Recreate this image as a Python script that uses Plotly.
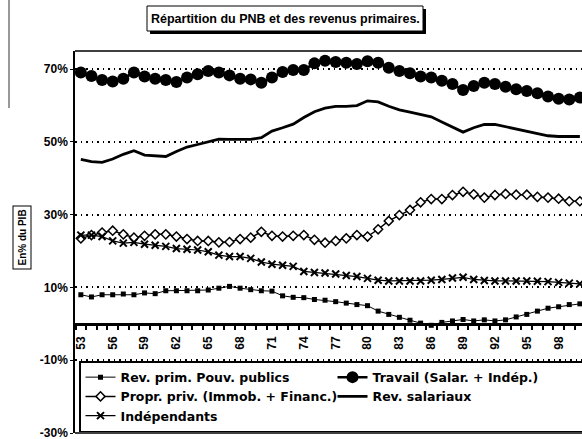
import plotly.graph_objects as go

# ---------------- data ----------------
years = list(range(1953, 2001))

pouv_publics = [8.0, 7.4, 8.0, 8.0, 8.2, 8.0, 8.5, 8.3, 9.1, 9.1,
                9.1, 9.1, 9.3, 9.8, 10.3, 9.8, 9.4, 9.1, 9.0, 7.7,
                7.3, 7.2, 6.7, 6.5, 6.1, 5.7, 5.3, 5.0, 3.5, 2.6,
                1.8, 1.0, 0.2, -0.4, 0.4, 0.8, 1.2, 0.8, 1.1, 0.8,
                1.1, 1.9, 2.6, 3.5, 4.3, 4.7, 5.3, 5.5]

travail = [69.1, 68.1, 67.0, 66.6, 67.4, 69.1, 68.0, 67.4, 67.0, 66.5,
           67.7, 68.6, 69.5, 69.1, 68.3, 67.4, 67.2, 66.3, 67.7, 69.2,
           69.8, 69.8, 71.6, 72.3, 72.0, 71.8, 71.4, 72.2, 71.8, 70.4,
           69.5, 68.9, 68.0, 67.7, 66.8, 65.9, 64.3, 65.4, 66.3, 65.9,
           65.2, 64.5, 64.0, 63.4, 62.5, 61.9, 61.7, 62.2]

propr_priv = [23.5, 24.4, 25.1, 25.6, 24.6, 23.7, 24.2, 24.6, 24.6, 24.0,
              23.3, 22.8, 22.8, 22.4, 22.5, 23.3, 23.7, 25.3, 24.2, 24.0,
              24.2, 24.4, 23.1, 22.3, 22.8, 23.5, 24.4, 24.0, 26.0, 28.3,
              29.9, 31.3, 33.4, 34.3, 34.3, 35.4, 36.3, 35.6, 34.7, 35.4,
              35.7, 35.5, 35.5, 34.9, 34.7, 34.4, 33.7, 33.7]

rev_salariaux = [45.2, 44.6, 44.4, 45.3, 46.6, 47.6, 46.4, 46.3, 46.0, 47.4,
                 48.6, 49.3, 50.0, 50.8, 50.7, 50.6, 50.7, 51.2, 53.0, 53.9,
                 54.9, 56.7, 58.3, 59.3, 59.8, 59.8, 60.0, 61.3, 61.0, 59.8,
                 58.8, 58.2, 57.6, 56.9, 55.5, 54.2, 52.7, 53.9, 54.8, 54.8,
                 54.2, 53.7, 53.0, 52.4, 51.7, 51.5, 51.5, 51.5]

independants = [24.4, 24.4, 24.0, 22.8, 22.2, 22.4, 21.9, 21.6, 21.3, 20.7,
                20.5, 20.3, 19.8, 18.9, 18.5, 18.5, 18.0, 17.0, 16.4, 16.1,
                15.8, 14.4, 14.1, 14.0, 13.7, 13.3, 13.0, 12.5, 12.0, 11.8,
                11.8, 11.8, 11.8, 12.0, 12.2, 12.6, 12.8, 12.2, 11.9, 11.8,
                11.8, 11.8, 11.8, 11.7, 11.6, 11.4, 11.2, 11.0]

x_tick_years = list(range(1953, 1999, 3))
x_tick_labels = [str(y)[2:] for y in x_tick_years]
y_tick_vals = [-30, -10, 10, 30, 50, 70]
y_tick_labels = ["-30%", "-10%", "10%", "30%", "50%", "70%"]

names = ["Rev. prim. Pouv. publics", "Travail (Salar. + Indép.)",
         "Propr. priv. (Immob. + Financ.)", "Rev. salariaux", "Indépendants"]
title_text = "Répartition du PNB et des revenus primaires."
ytitle_text = "En% du PIB"

# ---------------- layout geometry ----------------
W, H = 582, 439
Y_MIN, Y_MAX = -30, 75
ML, MR, MT, MB = 75, 0, 51, 6
PW, PH = W - ML - MR, H - MT - MB
FONT = "Liberation Sans, Arial, sans-serif"
LEG_FONT = "DejaVu Sans, sans-serif"


def pxx(px):
    return (px - ML) / PW


def pxy(py):
    return (H - MB - py) / PH


fig = go.Figure()

fig.add_trace(go.Scatter(
    x=years, y=pouv_publics, name=names[0], mode="lines+markers",
    line=dict(color="black", width=1),
    marker=dict(symbol="square", size=5, color="black")))

fig.add_trace(go.Scatter(
    x=years, y=travail, name=names[1], mode="lines+markers",
    line=dict(color="black", width=2.5),
    marker=dict(symbol="circle", size=12, color="black")))

fig.add_trace(go.Scatter(
    x=years, y=propr_priv, name=names[2], mode="lines+markers",
    line=dict(color="black", width=1.5),
    marker=dict(symbol="diamond", size=7, color="white",
                line=dict(color="black", width=1.5))))

fig.add_trace(go.Scatter(
    x=years, y=rev_salariaux, name=names[3], mode="lines",
    line=dict(color="black", width=2.8)))

fig.add_trace(go.Scatter(
    x=years, y=independants, name=names[4], mode="lines+markers",
    line=dict(color="black", width=1.2),
    marker=dict(symbol="x-thin", size=7, color="black",
                line=dict(color="black", width=2))))

shapes = [
    # title shadow + box
    dict(type="rect", xref="paper", yref="paper",
         x0=pxx(150), x1=pxx(426), y0=pxy(34), y1=pxy(9),
         fillcolor="black", line=dict(width=0), layer="above"),
    dict(type="rect", xref="paper", yref="paper",
         x0=pxx(147), x1=pxx(423), y0=pxy(31), y1=pxy(6),
         fillcolor="white", line=dict(color="black", width=1), layer="above"),
    # plot frame: top and bottom
    dict(type="line", xref="paper", yref="paper", x0=0, x1=1.02, y0=1, y1=1,
         line=dict(color="black", width=1.5)),
    dict(type="line", xref="paper", yref="paper", x0=0, x1=1.02, y0=0, y1=0,
         line=dict(color="black", width=1.5)),
    # scan artefact line on the far left
    dict(type="line", xref="paper", yref="paper", x0=pxx(9), x1=pxx(9),
         y0=pxy(0), y1=pxy(108), line=dict(color="#333333", width=1)),
]

annotations = [
    dict(text=title_text, xref="paper", yref="paper",
         x=pxx(285), y=pxy(18.5), xanchor="center", yanchor="middle",
         showarrow=False,
         font=dict(family=FONT, size=12.5, color="black", weight="bold")),
    dict(text=ytitle_text, xref="paper", yref="paper",
         x=pxx(21.5), y=pxy(238), xanchor="center", yanchor="middle",
         textangle=-90, showarrow=False, bordercolor="black", borderwidth=1,
         borderpad=3, bgcolor="white",
         font=dict(family=FONT, size=10, color="black", weight="bold")),
]

fig.update_layout(
    width=W, height=H,
    margin=dict(l=ML, r=MR, t=MT, b=MB, autoexpand=False),
    paper_bgcolor="white", plot_bgcolor="white",
    showlegend=True,
    legend=dict(orientation="h", x=pxx(79), xanchor="left",
                y=pxy(361), yanchor="top", bgcolor="white",
                bordercolor="black", borderwidth=1.5,
                font=dict(family=LEG_FONT, size=12.5, color="black", weight="bold"),
                entrywidth=207, entrywidthmode="pixels", itemwidth=30,
                traceorder="normal"),
    xaxis=dict(range=[1952.45, 2000.2], anchor="free",
               position=(0 - Y_MIN) / (Y_MAX - Y_MIN),
               showline=True, linewidth=2.5, linecolor="black",
               tickmode="array", tickvals=x_tick_years, ticktext=x_tick_labels,
               tickangle=-90, ticks="", ticklabelstandoff=6,
               tickfont=dict(family=FONT, size=12, color="black", weight="bold"),
               showgrid=False, zeroline=False, automargin=False,
               minor=dict(tickmode="linear", tick0=1952.5, dtick=1,
                          ticks="outside", ticklen=4, tickwidth=1.5,
                          tickcolor="black", showgrid=False)),
    yaxis=dict(range=[Y_MIN, Y_MAX], tickmode="array", tickvals=y_tick_vals,
               ticktext=y_tick_labels, showgrid=True, gridcolor="black",
               gridwidth=1.5, griddash="1.5px,4px",
               showline=True, linewidth=1.5, linecolor="black",
               ticks="outside", ticklen=3, tickcolor="black", zeroline=False,
               automargin=False, ticklabeloverflow="allow",
               tickfont=dict(family=FONT, size=12, color="black", weight="bold")),
    shapes=shapes,
    annotations=annotations,
)

fig.write_html(
    "out.html",
    config={"displayModeBar": False},
    post_script="document.body.style.margin='0';document.body.style.overflow='hidden';",
)
